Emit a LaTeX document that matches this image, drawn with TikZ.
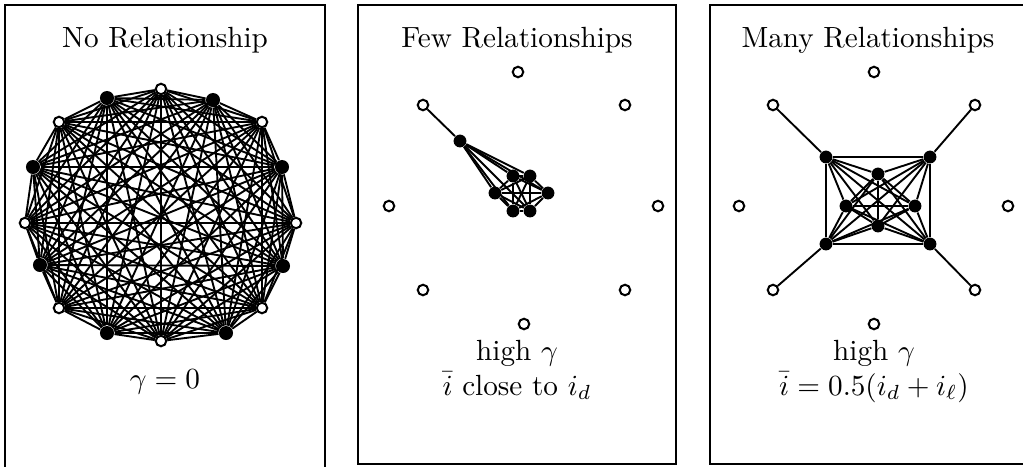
\documentclass[tikz,border=0pt]{standalone}
\begin{document}
\begin{tikzpicture}[x=0.3425pt,y=-0.3425pt,
  wnode/.style={circle,draw,fill=white,line width=0.7pt,inner sep=0pt,minimum size=3.6pt},
  bnode/.style={circle,fill=black,inner sep=0pt,minimum size=4.4pt},
  bignode/.style={circle,fill=black,inner sep=0pt,minimum size=4.8pt},
  edge/.style={line width=0.65pt},
  panel/.style={line width=0.9pt},
  lbl/.style={inner sep=0pt,anchor=base}]
\useasboundingbox (0,0) rectangle (1023,466);
\clip (0,0) rectangle (1023,466);
% panels
\draw[panel] (5,5) rectangle (325,490);
\draw[panel] (358,5) rectangle (676,464);
\draw[panel] (710,5) rectangle (1030,464);
% titles
\node[lbl] (t1) at (165,47) {No Relationship};
\node[lbl] (t2) at (517,47) {Few Relationships};
\node[lbl] (t3) at (868,47) {Many Relationships};
% panel 1 nodes
\node[wnode] (a1) at (161,89) {};
\node[bignode] (a2) at (213,100) {};
\node[wnode] (a3) at (262,122) {};
\node[bignode] (a4) at (282,167) {};
\node[wnode] (a5) at (296,223) {};
\node[bignode] (a6) at (283,266) {};
\node[wnode] (a7) at (262,308) {};
\node[bignode] (a8) at (226,333) {};
\node[wnode] (a9) at (161,341) {};
\node[bignode] (a10) at (107,333) {};
\node[wnode] (a11) at (59,308) {};
\node[bignode] (a12) at (40,265) {};
\node[wnode] (a13) at (25,223) {};
\node[bignode] (a14) at (33,167) {};
\node[wnode] (a15) at (59,122) {};
\node[bignode] (a16) at (107,98) {};
\foreach \i in {1,...,15} {
  \pgfmathtruncatemacro\k{\i+1}
  \foreach \j in {\k,...,16} { \draw[edge] (a\i) -- (a\j); }
}
\node[lbl] (g1) at (165,388) {$\gamma = 0$};
% panel 2 nodes
\node[wnode] (bw1) at (518,72) {};
\node[wnode] (bw2) at (423,105) {};
\node[wnode] (bw3) at (625,105) {};
\node[wnode] (bw4) at (389,206) {};
\node[wnode] (bw5) at (658,206) {};
\node[wnode] (bw6) at (423,290) {};
\node[wnode] (bw7) at (625,290) {};
\node[wnode] (bw8) at (524,324) {};
\node[bnode] (c0) at (460,141) {};
\node[bnode] (c1) at (513,176) {};
\node[bnode] (c2) at (530,176) {};
\node[bnode] (c3) at (495,193) {};
\node[bnode] (c4) at (548,193) {};
\node[bnode] (c5) at (513,211) {};
\node[bnode] (c6) at (530,211) {};
\draw[edge] (bw2) -- (c0);
\foreach \i in {0,...,5} {
  \pgfmathtruncatemacro\k{\i+1}
  \foreach \j in {\k,...,6} { \draw[edge] (c\i) -- (c\j); }
}
\node[lbl] (h2a) at (517,360) {high $\gamma$};
\node[lbl] (h2b) at (517,395) {$\bar{i}$ close to $i_d$};
% panel 3 nodes
\node[wnode] (dw1) at (874,72) {};
\node[wnode] (dw2) at (773,105) {};
\node[wnode] (dw3) at (975,105) {};
\node[wnode] (dw4) at (739,206) {};
\node[wnode] (dw5) at (1008,206) {};
\node[wnode] (dw6) at (773,290) {};
\node[wnode] (dw7) at (975,290) {};
\node[wnode] (dw8) at (874,324) {};
\node[bnode] (d1) at (826,157) {};
\node[bnode] (d2) at (930,157) {};
\node[bnode] (d3) at (826,244) {};
\node[bnode] (d4) at (930,244) {};
\node[bnode] (d5) at (878,174) {};
\node[bnode] (d6) at (846,206) {};
\node[bnode] (d7) at (915,206) {};
\node[bnode] (d8) at (878,226) {};
\draw[edge] (dw2) -- (d1);
\draw[edge] (dw3) -- (d2);
\draw[edge] (dw6) -- (d3);
\draw[edge] (dw7) -- (d4);
\foreach \i in {1,...,7} {
  \pgfmathtruncatemacro\k{\i+1}
  \foreach \j in {\k,...,8} { \draw[edge] (d\i) -- (d\j); }
}
\node[lbl] (h3a) at (874,360) {high $\gamma$};
\node[lbl] (h3b) at (874,395) {$\bar{i} = 0.5(i_d + i_\ell)$};
\end{tikzpicture}
\end{document}
